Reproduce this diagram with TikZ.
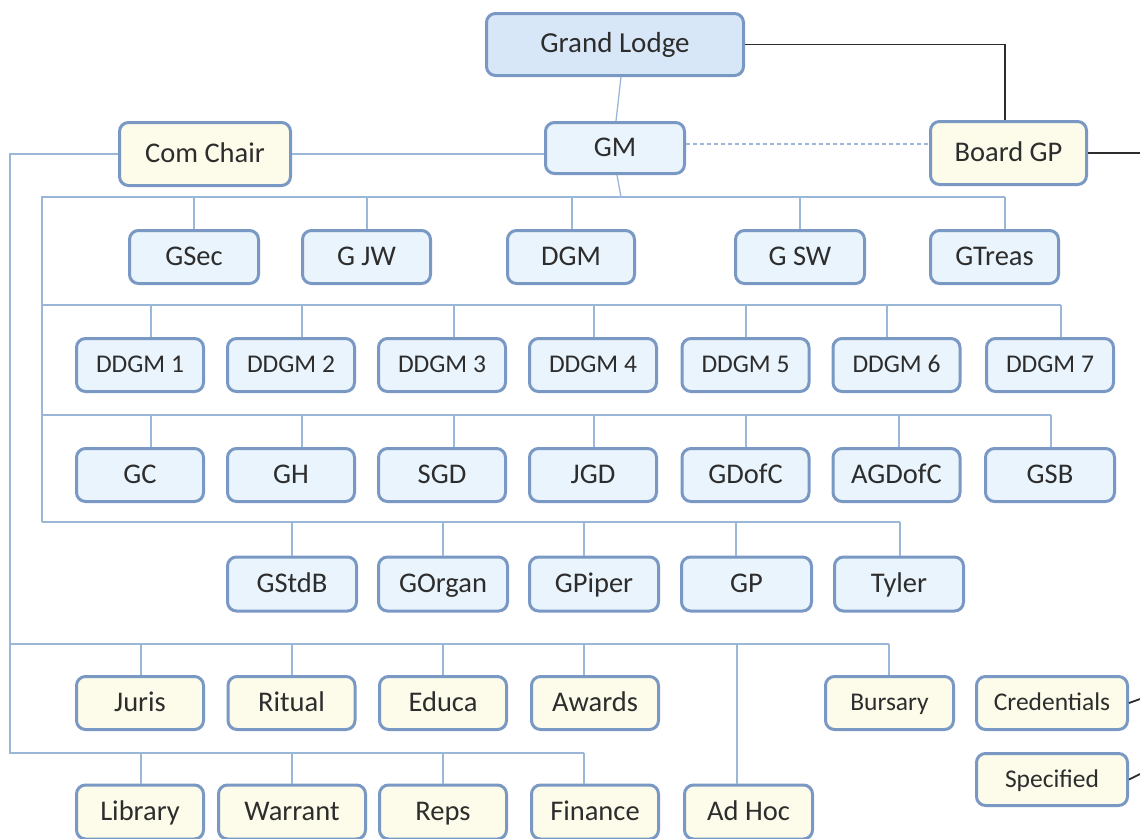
\documentclass[tikz,border=0pt]{standalone}
\usepackage{fontspec}
\setmainfont{Carlito}
\definecolor{bord}{RGB}{122,152,196}
\definecolor{bfill}{RGB}{233,244,252}
\definecolor{glfill}{RGB}{216,231,247}
\definecolor{yfill}{RGB}{253,251,233}
\definecolor{wire}{RGB}{155,183,216}
\definecolor{txt}{RGB}{45,45,45}
\definecolor{dark}{RGB}{45,45,45}
\tikzset{
  bx/.style={draw=bord, line width=3pt, rounded corners=9pt, fill=bfill,
    minimum height=54, inner sep=0pt, text=txt, font=\fontsize{28.5}{32}\selectfont,
    text height=21pt, text depth=4.5pt},
  yb/.style={bx, fill=yfill},
  sm/.style={font=\fontsize{25.5}{29}\selectfont, text height=19pt, text depth=4pt},
  wr/.style={draw=wire, line width=1.3pt},
  blk/.style={draw=dark, line width=1.8pt},
}
\begin{document}
\begin{tikzpicture}[x=1pt,y=-1pt]
\useasboundingbox (0,0) rectangle (1140,838);
% top
\node[bx, fill=glfill, minimum width=257, minimum height=62, font=\fontsize{29}{32}\selectfont] (GL) at (615,44.5) {Grand Lodge};
\node[bx, minimum width=139, minimum height=51] (GM) at (615,148) {GM};
\node[yb, minimum width=171, minimum height=63] (CC) at (205,154) {Com Chair};
\node[yb, minimum width=156, minimum height=63] (BGP) at (1008.5,153) {Board GP};
% row 2
\node[bx, minimum width=129, minimum height=53] (GSec) at (194,257) {GSec};
\node[bx, minimum width=128, minimum height=53] (GJW) at (366.5,257) {G JW};
\node[bx, minimum width=127, minimum height=53] (DGM) at (571,257) {DGM};
\node[bx, minimum width=129, minimum height=53] (GSW) at (800,257) {G SW};
\node[bx, minimum width=128, minimum height=53] (GTreas) at (994.5,257) {GTreas};
% row 3
\foreach \n/\x in {1/140,2/291,3/442,4/593,5/745.5,6/896.5,7/1050}
  \node[bx, sm, minimum width=127, minimum height=53] (DD\n) at (\x,365) {DDGM \n};
% row 4
\node[bx, minimum width=127, minimum height=53] (GC) at (140,475) {GC};
\node[bx, minimum width=127, minimum height=53] (GH) at (291,475) {GH};
\node[bx, minimum width=127, minimum height=53] (SGD) at (442,475) {SGD};
\node[bx, minimum width=127, minimum height=53] (JGD) at (593,475) {JGD};
\node[bx, minimum width=127, minimum height=53] (GDofC) at (745.5,475) {GDofC};
\node[bx, minimum width=127, minimum height=53] (AGDofC) at (896.5,475) {AGDofC};
\node[bx, minimum width=129, minimum height=53] (GSB) at (1050,475) {GSB};
% row 5
\node[bx, minimum width=129, minimum height=54] (GStdB) at (292,584) {GStdB};
\node[bx, minimum width=129, minimum height=54] (GOrgan) at (443,584) {GOrgan};
\node[bx, minimum width=129, minimum height=54] (GPiper) at (594,584) {GPiper};
\node[bx, minimum width=130, minimum height=54] (GP) at (746.5,584) {GP};
\node[bx, minimum width=129, minimum height=54] (Tyler) at (899,584) {Tyler};
% row 6
\node[yb, minimum width=127, minimum height=53] (Juris) at (140,703) {Juris};
\node[yb, minimum width=127, minimum height=53] (Ritual) at (291.5,703) {Ritual};
\node[yb, minimum width=127, minimum height=53] (Educa) at (443,703) {Educa};
\node[yb, minimum width=127, minimum height=53] (Awards) at (595,703) {Awards};
\node[yb, sm, minimum width=128, minimum height=53] (Bursary) at (889.5,703) {Bursary};
\node[yb, sm, minimum width=151, minimum height=53] (Cred) at (1052,703) {Credentials};
\node[yb, sm, minimum width=151, minimum height=52] (Spec) at (1052,779.5) {Specified};
% row 7
\node[yb, minimum width=127, minimum height=54] (Library) at (140,812) {Library};
\node[yb, minimum width=147, minimum height=54] (Warrant) at (292,812) {Warrant};
\node[yb, minimum width=127, minimum height=54] (Reps) at (443,812) {Reps};
\node[yb, minimum width=127, minimum height=54] (Finance) at (595,812) {Finance};
\node[yb, minimum width=128, minimum height=54] (AdHoc) at (748.5,812) {Ad Hoc};

% wires
\coordinate (b1m) at (621,197);
\draw[wr] ([xshift=6]GL.south) -- ([xshift=1]GM.north);
\draw[wr] ([xshift=2]GM.south) -- (b1m);
% bus 1
\coordinate (b1l) at (42,197);
\coordinate (b4l) at (42,522);
\draw[wr] (b4l) -- (b1l) -- (1005,197);
\foreach \x/\n in {194/GSec,367/GJW,572/DGM,800/GSW,1005/GTreas}
  \draw[wr] (\x,197) -- (\x,197 |- \n.north);
% bus 2
\draw[wr] (42,305) -- (1061,305);
\foreach \x/\n in {151/DD1,302/DD2,454/DD3,594/DD4,746/DD5,887/DD6,1061/DD7}
  \draw[wr] (\x,305) -- (\x,305 |- \n.north);
% bus 3
\draw[wr] (42,415) -- (1051,415);
\foreach \x/\n in {151/GC,302/GH,454/SGD,594/JGD,746/GDofC,899/AGDofC,1051/GSB}
  \draw[wr] (\x,415) -- (\x,415 |- \n.north);
% bus 4
\draw[wr] (b4l) -- (900,522);
\foreach \x/\n in {292/GStdB,443/GOrgan,584/GPiper,736/GP,900/Tyler}
  \draw[wr] (\x,522) -- (\x,522 |- \n.north);
% outer left
\coordinate (ol) at (10,154);
\draw[wr] (CC.west) -- (ol) -- (10,753) -- (584,753);
\draw[wr] (CC.east) -- (CC.east -| GM.west);
\draw[wr] (10,644) -- (889,644);
\foreach \x/\n in {141/Juris,292/Ritual,443/Educa,584/Awards,889/Bursary}
  \draw[wr] (\x,644) -- (\x,644 |- \n.north);
\draw[wr] (737,644) -- (737,644 |- AdHoc.north);
\foreach \x/\n in {141/Library,292/Warrant,443/Reps,584/Finance}
  \draw[wr] (\x,753) -- (\x,753 |- \n.north);
% dashed
\draw[wr, dashed, dash pattern=on 4pt off 3pt] ([yshift=4]GM.east) -- ([yshift=4]GM.east -| BGP.west);
% black lines
\coordinate (e1) at (1140,153);
\coordinate (e2) at (1140,699);
\coordinate (e3) at (1140,774);
\draw[blk] (GL.east) -- (GL.east -| 1005,0) -- (1005,0 |- BGP.north);
\draw[blk] (BGP.east) -- (e1);
\draw[blk] (Cred.east) -- (e2);
\draw[blk] (Spec.east) -- (e3);
\end{tikzpicture}
\end{document}
